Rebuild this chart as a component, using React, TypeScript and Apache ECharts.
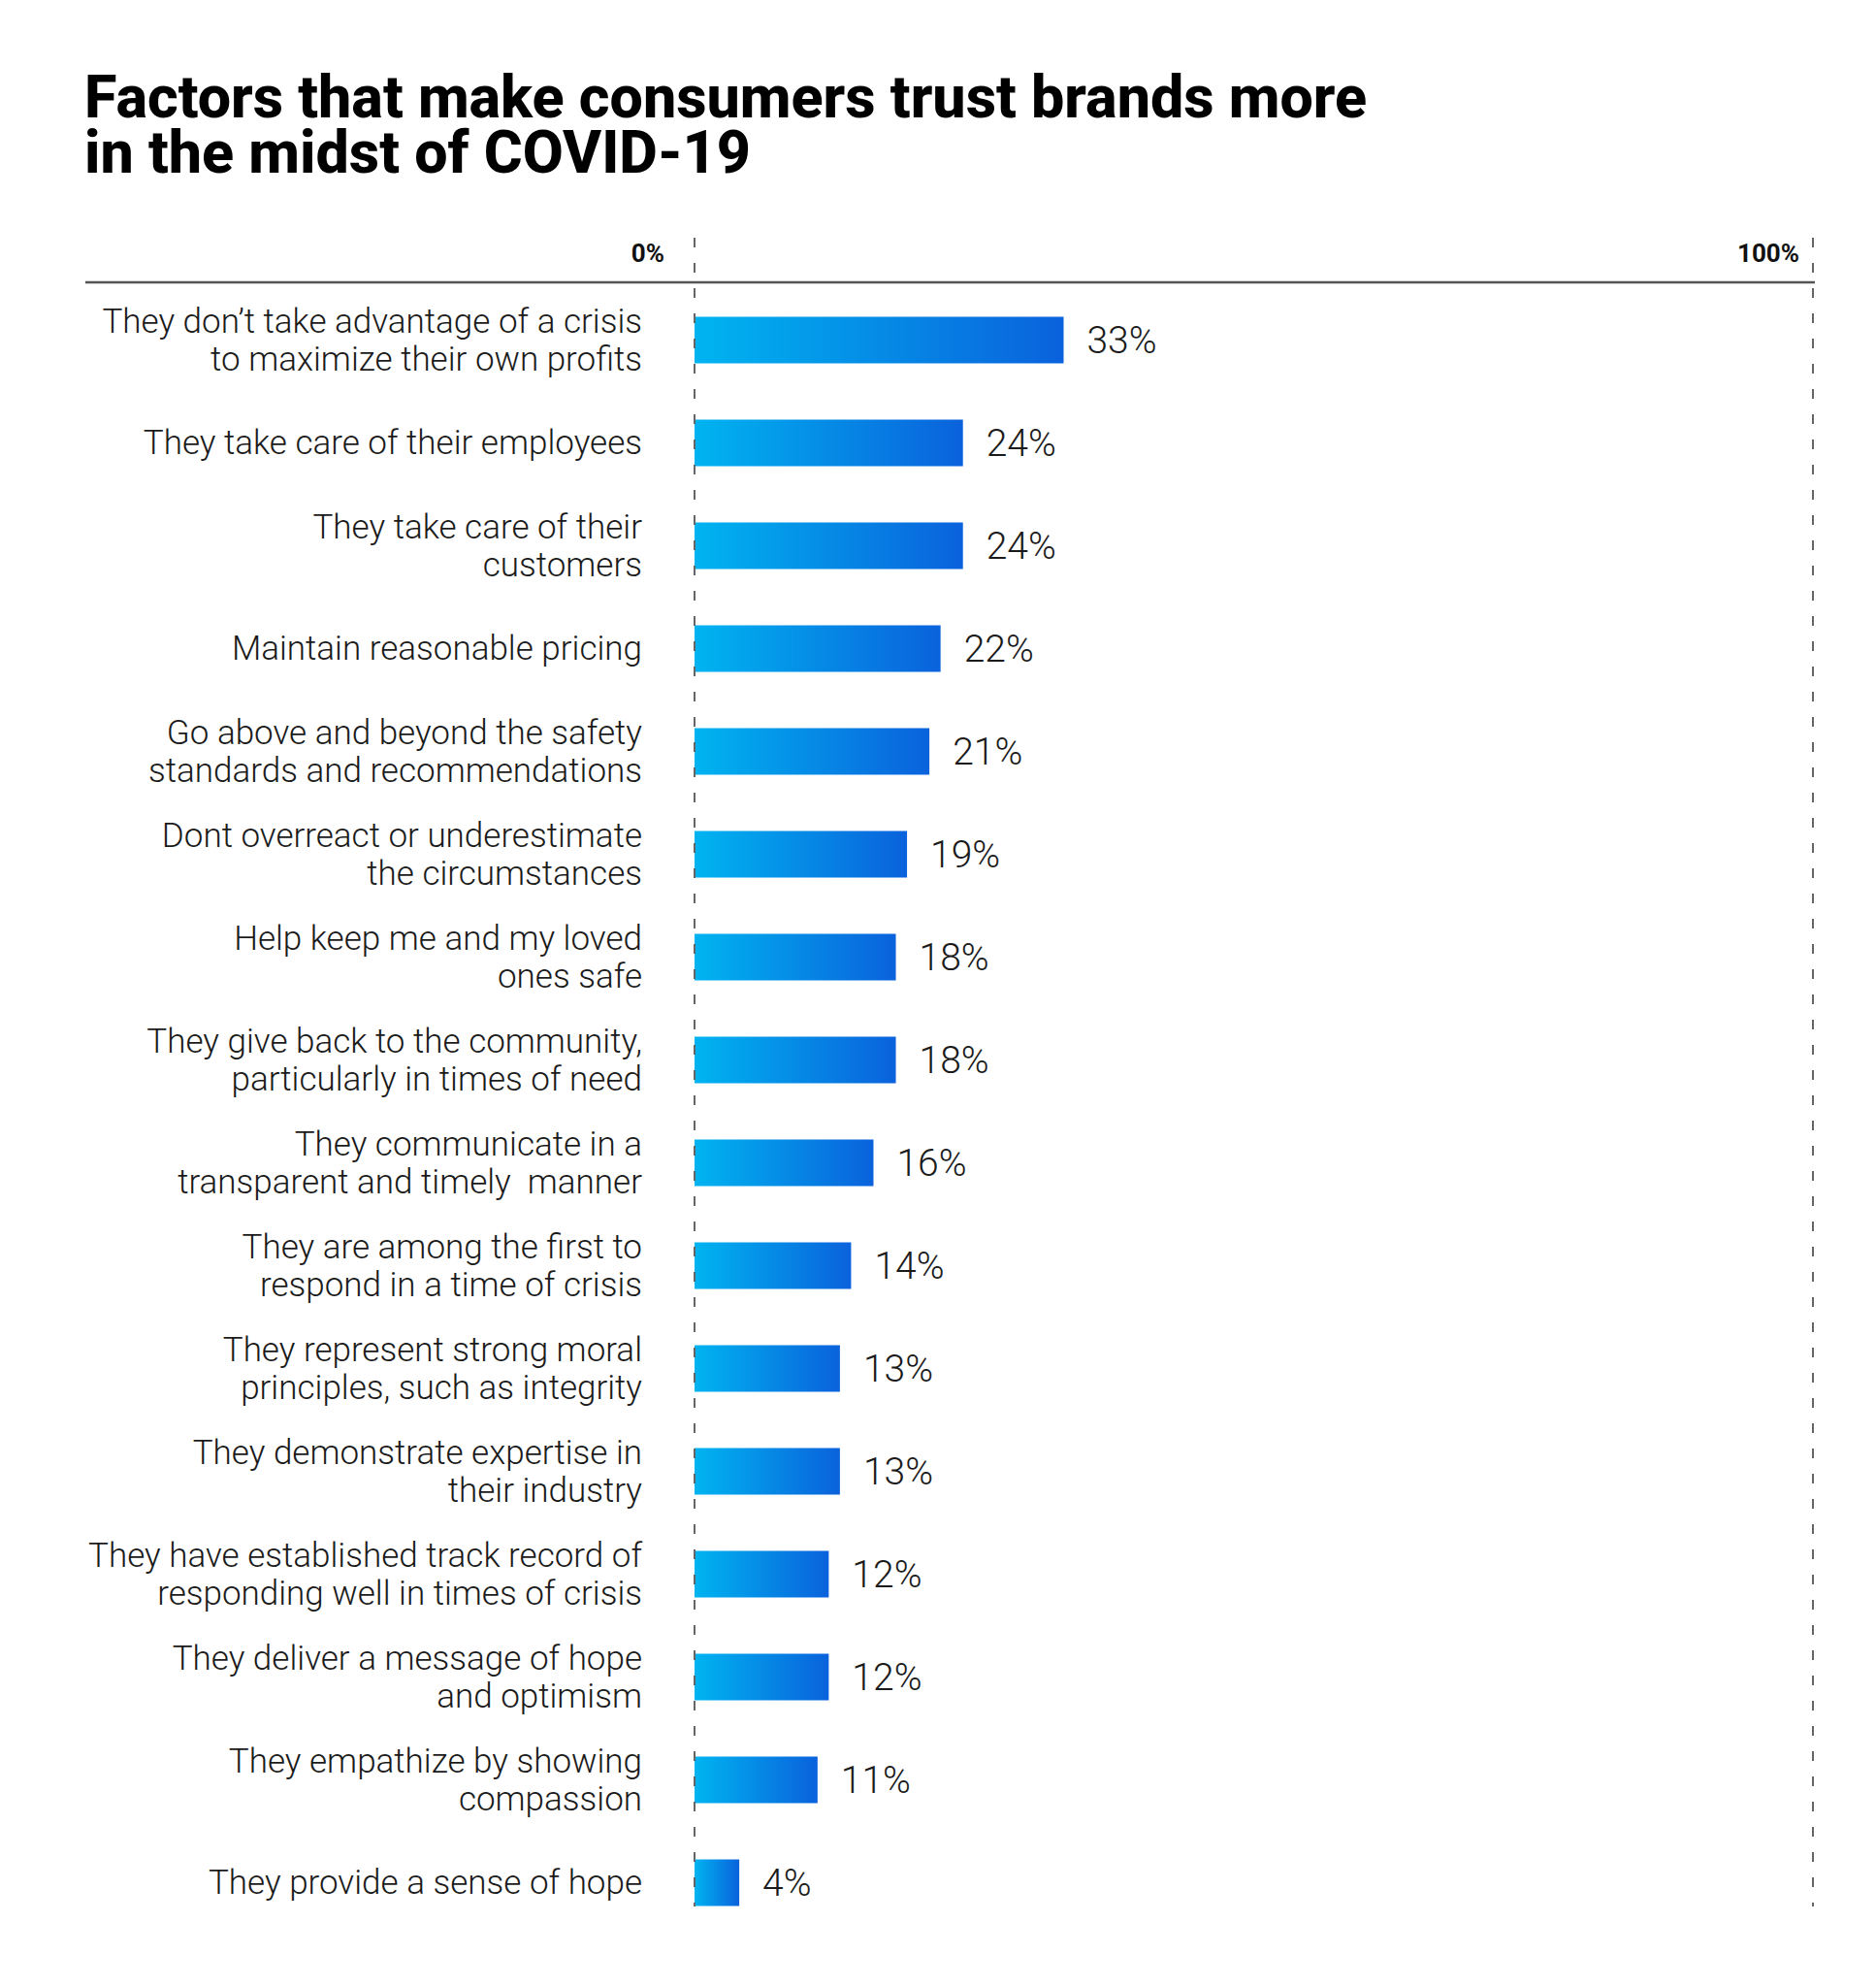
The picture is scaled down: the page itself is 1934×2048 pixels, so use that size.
import React from "react";
import * as echarts from "echarts";

// ---------- Data ----------
const categories = [
  "They don’t take advantage of a crisis\nto maximize their own profits",
  "They take care of their employees",
  "They take care of their\ncustomers",
  "Maintain reasonable pricing",
  "Go above and beyond the safety\nstandards and recommendations",
  "Dont overreact or underestimate\nthe circumstances",
  "Help keep me and my loved\nones safe",
  "They give back to the community,\nparticularly in times of need",
  "They communicate in a\ntransparent and timely  manner",
  "They are among the first to\nrespond in a time of crisis",
  "They represent strong moral\nprinciples, such as integrity",
  "They demonstrate expertise in\ntheir industry",
  "They have established track record of\nresponding well in times of crisis",
  "They deliver a message of hope\nand optimism",
  "They empathize by showing\ncompassion",
  "They provide a sense of hope",
];
const shares = [33, 24, 24, 22, 21, 19, 18, 18, 16, 14, 13, 13, 12, 12, 11, 4];
const scaleTicks = [0, 100];

const TITLE_LINES = ["Factors that make consumers trust brands more", "in the midst of COVID-19"];
const FONT = "Roboto, 'Noto Sans', sans-serif";

export default function App() {
  const ref = React.useRef<HTMLDivElement>(null);

  React.useEffect(() => {
    document.body.style.margin = "0";
    document.body.style.overflow = "hidden";
    const el = ref.current;
    if (!el) return;
    const chart = echarts.init(el, undefined, { renderer: "svg" });

    const titleStyle = {
      fontFamily: FONT,
      fontSize: 61,
      fontWeight: 800,
      lineHeight: 56,
      color: "#000000",
    };

    const option: echarts.EChartsOption = {
      animation: false,
      backgroundColor: "#ffffff",
      textStyle: { fontFamily: FONT },
      title: TITLE_LINES.map((t, i) => ({
        text: t,
        left: 87,
        top: 72 + i * 56.5,
        padding: 0,
        textStyle: titleStyle,
      })),
      grid: [
        // bars
        { left: 716, width: 1153, top: 297.5, height: 1696, containLabel: false, outerBoundsMode: "none" } as any,
        // dashed 0% / 100% guides and their labels
        { left: 716, width: 1153, top: 245, height: 1720, containLabel: false, outerBoundsMode: "none" } as any,
      ],
      xAxis: [
        {
          type: "value",
          gridIndex: 0,
          min: 0,
          max: 100,
          show: false,
        },
        {
          type: "value",
          gridIndex: 1,
          position: "top",
          min: scaleTicks[0],
          max: scaleTicks[scaleTicks.length - 1],
          interval: 100,
          z: 5,
          axisLine: { show: false },
          axisTick: { show: false },
          splitLine: {
            show: true,
            lineStyle: { color: "#666666", width: 2, type: [10, 16] },
          },
          axisLabel: {
            margin: -16,
            verticalAlign: "middle",
            align: "right",
            formatter: (v: number) => (v === 0 ? `{a|${v}%}` : `{b|${v}%}`),
            rich: {
              a: { fontFamily: FONT, fontSize: 26, fontWeight: "bold", color: "#111", padding: [0, 31, 0, 0] },
              b: { fontFamily: FONT, fontSize: 26, fontWeight: "bold", color: "#111", padding: [0, 14, 0, 0] },
            },
          },
        },
      ],
      yAxis: [
        {
          type: "category",
          gridIndex: 0,
          data: categories,
          inverse: true,
          axisLine: { show: false },
          axisTick: { show: false },
          axisLabel: {
            margin: 54,
            align: "right",
            fontFamily: FONT,
            fontSize: 35,
            fontWeight: 300,
            lineHeight: 39,
            padding: [0, 0, 6, 0],
            color: "#1a1a1a",
          },
        },
        { type: "value", gridIndex: 1, show: false },
      ],
      series: [
        {
          type: "bar",
          xAxisIndex: 0,
          yAxisIndex: 0,
          data: shares,
          barWidth: 48,
          itemStyle: {
            color: new echarts.graphic.LinearGradient(0, 0, 1, 0, [
              { offset: 0, color: "#00b4f0" },
              { offset: 1, color: "#0a62dc" },
            ]),
          },
          label: {
            show: true,
            position: "right",
            distance: 24,
            formatter: "{c}%",
            fontFamily: FONT,
            fontSize: 39,
            fontWeight: 300,
            color: "#1a1a1a",
          },
        },
      ],
      graphic: [
        {
          type: "line",
          shape: { x1: 88, y1: 291, x2: 1871, y2: 291 },
          style: { stroke: "#555555", lineWidth: 2.5 },
        },
      ],
    };

    chart.setOption(option);
    const onResize = () => chart.resize();
    window.addEventListener("resize", onResize);
    return () => {
      window.removeEventListener("resize", onResize);
      chart.dispose();
    };
  }, []);

  return <div ref={ref} style={{ width: 1934, height: 2048 }} />;
}
